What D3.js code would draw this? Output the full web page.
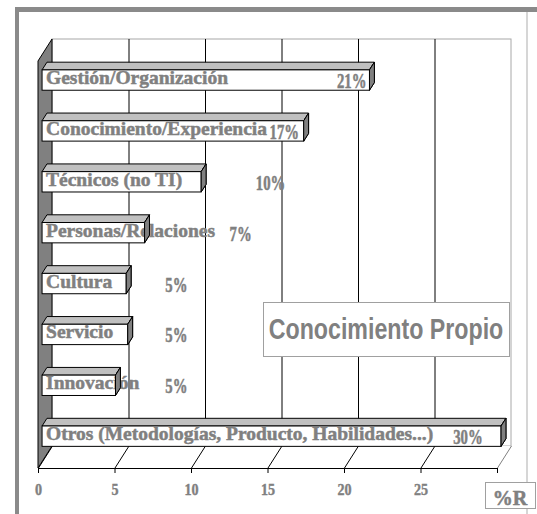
<!DOCTYPE html>
<html>
<head>
<meta charset="utf-8">
<script src="https://cdn.jsdelivr.net/npm/d3@7"></script>
<style>
  body { margin: 0; background: #fff; }
  svg { display: block; }
</style>
</head>
<body>
<div id="chart"></div>
<script>
// data
let categories = [
  'Gestión/Organización',
  'Conocimiento/Experiencia',
  'Técnicos (no TI)',
  'Personas/Relaciones',
  'Cultura',
  'Servicio',
  'Innovación',
  'Otros (Metodologías, Producto, Habilidades...)'
]
let values = [21.4, 17.1, 10.4, 6.7, 5.5, 5.6, 4.8, 30.0]
let valueLabels = ['21%', '17%', '10%', '7%', '5%', '5%', '5%', '30%']
// where each value label ends, in %R units
let labelAt = [21.2, 16.8, 15.9, 13.7, 9.5, 9.5, 9.5, 28.8]
let ticks = [0, 5, 10, 15, 20, 25]
let axisTitle = '%R'
let boxTitle = 'Conocimiento Propio'

let width = 537
let height = 514

let svg = d3
  .select('#chart')
  .append('svg')
  .attr('width', width)
  .attr('height', height)

let gray = '#808080'
let serif = '"Liberation Serif", "Times New Roman", serif'

// depth of the 3d box
let DX = 14
let DY = -22
// bar depth starts and ends at these fractions of the box depth
let f1 = 0.29
let f2 = 0.64

let xPositionScale = d3.scaleLinear().domain([0, 30]).range([38, 497])
let yPositionScale = d3
  .scaleBand()
  .domain(categories)
  .range([61, 468])
  .paddingInner(0.6)
  .paddingOuter(0.3)

let x0 = xPositionScale(0)
let x1 = xPositionScale(30)
let yTop = yPositionScale.range()[0]
let yBot = yPositionScale.range()[1]

// frame
svg.append('rect').attr('x', 15).attr('y', 7).attr('width', 522).attr('height', 5).attr('fill', '#8a8a8a')
svg.append('rect').attr('x', 15).attr('y', 7).attr('width', 4).attr('height', 507).attr('fill', '#8a8a8a')
svg.append('line').attr('x1', 527).attr('x2', 527).attr('y1', 12).attr('y2', 514)
  .attr('stroke', '#c8c8c8').attr('stroke-width', 1.5)

let g = svg.append('g')

// back wall
g.append('rect')
  .attr('x', x0 + DX)
  .attr('y', yTop + DY)
  .attr('width', x1 - x0)
  .attr('height', yBot - yTop)
  .attr('fill', '#fff')
  .attr('stroke', '#a8a8a8')

// gridlines on back wall
g.selectAll('.grid')
  .data(ticks.filter(d => d > 0))
  .enter()
  .append('line')
  .attr('class', 'grid')
  .attr('x1', d => xPositionScale(d) + DX + 0.5)
  .attr('x2', d => xPositionScale(d) + DX + 0.5)
  .attr('y1', yTop + DY)
  .attr('y2', yBot + DY)
  .attr('stroke', '#000')

// floor
g.append('path')
  .attr('d', `M${x0},${yBot}L${x0 + DX},${yBot + DY}L${x1 + DX},${yBot + DY}L${x1},${yBot}Z`)
  .attr('fill', '#fff')
  .attr('stroke', 'none')
g.selectAll('.floor-line')
  .data(ticks.concat([30]))
  .enter()
  .append('line')
  .attr('class', 'floor-line')
  .attr('x1', d => xPositionScale(d) + 0.5)
  .attr('y1', yBot)
  .attr('x2', d => xPositionScale(d) + DX + 0.5)
  .attr('y2', yBot + DY)
  .attr('stroke', d => (d === 30 ? gray : '#000'))

// left wall
g.append('path')
  .attr('d', `M${x0},${yTop}L${x0 + DX},${yTop + DY}L${x0 + DX},${yBot + DY}L${x0},${yBot}Z`)
  .attr('fill', gray)
  .attr('stroke', '#000')
  .attr('stroke-width', 1)

// front axis
g.append('line')
  .attr('x1', x0).attr('x2', x1)
  .attr('y1', yBot + 0.5).attr('y2', yBot + 0.5)
  .attr('stroke', '#000')
g.selectAll('.tick-mark')
  .data(ticks.concat([30]))
  .enter()
  .append('line')
  .attr('class', 'tick-mark')
  .attr('x1', d => xPositionScale(d) + 0.5)
  .attr('x2', d => xPositionScale(d) + 0.5)
  .attr('y1', yBot)
  .attr('y2', yBot + 5)
  .attr('stroke', '#000')

g.selectAll('.tick-label')
  .data(ticks)
  .enter()
  .append('text')
  .attr('class', 'tick-label')
  .attr('transform', d => `translate(${xPositionScale(d) + 0.5},495) scale(0.88,1)`)
  .attr('text-anchor', 'middle')
  .attr('font-family', serif)
  .attr('font-weight', 'bold')
  .attr('font-size', 16)
  .attr('fill', gray)
  .attr('stroke', gray)
  .attr('stroke-width', 0.4)
  .text(d => d)

// bars
let bars = categories.map((c, i) => {
  let bx = x0 + f1 * DX
  let by = yPositionScale(c) + f1 * DY
  let bw = xPositionScale(values[i]) - x0
  let bh = yPositionScale.bandwidth()
  let ox = (f2 - f1) * DX
  let oy = (f2 - f1) * DY
  return { c, i, bx, by, bw, bh, ox, oy }
})

function sidePath(d) {
  let r = d.bx + d.bw
  return `M${r},${d.by}L${r + d.ox},${d.by + d.oy}L${r + d.ox},${d.by + d.bh + d.oy}L${r},${d.by + d.bh}Z`
}

let barG = g.selectAll('.bar').data(bars).enter().append('g').attr('class', 'bar')

barG.append('path')
  .attr('d', d => `M${d.bx},${d.by}L${d.bx + d.ox},${d.by + d.oy}L${d.bx + d.bw + d.ox},${d.by + d.oy}L${d.bx + d.bw},${d.by}Z`)
  .attr('fill', '#c0c0c0')
  .attr('stroke', '#000')
  .attr('stroke-linejoin', 'round')
barG.append('path')
  .attr('d', sidePath)
  .attr('fill', gray)
  .attr('stroke', '#000')
barG.append('rect')
  .attr('x', d => d.bx)
  .attr('y', d => d.by)
  .attr('width', d => d.bw)
  .attr('height', d => d.bh)
  .attr('fill', '#fff')
  .attr('stroke', '#000')

// category labels
g.selectAll('.cat-label')
  .data(bars)
  .enter()
  .append('text')
  .attr('class', 'cat-label')
  .attr('x', d => d.bx + 4)
  .attr('y', d => d.by + d.bh / 2 + 4)
  .attr('font-family', serif)
  .attr('font-weight', 'bold')
  .attr('font-size', 19.5)
  .attr('fill', gray)
  .attr('stroke', gray)
  .attr('stroke-width', 0.5)
  .text(d => d.c)

// side faces again over long labels
g.selectAll('.side-top')
  .data(bars)
  .enter()
  .append('path')
  .attr('class', 'side-top')
  .attr('d', sidePath)
  .attr('fill', gray)
  .attr('stroke', '#000')

// value labels
g.selectAll('.value-label')
  .data(bars)
  .enter()
  .append('text')
  .attr('class', 'value-label')
  .attr('transform', d => `translate(${x0 + f1 * DX + xPositionScale(labelAt[d.i]) - x0},${d.by + d.bh / 2 + 8}) scale(0.72,1)`)
  .attr('text-anchor', 'end')
  .attr('font-family', serif)
  .attr('font-weight', 'bold')
  .attr('font-size', 20.5)
  .attr('fill', gray)
  .attr('stroke', gray)
  .attr('stroke-width', 0.5)
  .text(d => valueLabels[d.i])

// title box
svg.append('rect')
  .attr('x', 263.5).attr('y', 302.5)
  .attr('width', 246).attr('height', 54)
  .attr('fill', '#fff')
  .attr('stroke', '#a0a0a0')
svg.append('text')
  .attr('transform', 'translate(386,339) scale(0.8,1)')
  .attr('text-anchor', 'middle')
  .attr('font-family', '"Liberation Sans", Arial, sans-serif')
  .attr('font-weight', 'bold')
  .attr('font-size', 29)
  .attr('fill', gray)
  .text(boxTitle)

// axis title box
svg.append('rect')
  .attr('x', 485.5).attr('y', 482.5)
  .attr('width', 50).attr('height', 26)
  .attr('fill', '#fff')
  .attr('stroke', '#a0a0a0')
svg.append('text')
  .attr('x', 510)
  .attr('y', 505)
  .attr('text-anchor', 'middle')
  .attr('font-family', serif)
  .attr('font-weight', 'bold')
  .attr('font-size', 20)
  .attr('fill', gray)
  .attr('stroke', gray)
  .attr('stroke-width', 0.5)
  .text(axisTitle)
</script>
</body>
</html>
